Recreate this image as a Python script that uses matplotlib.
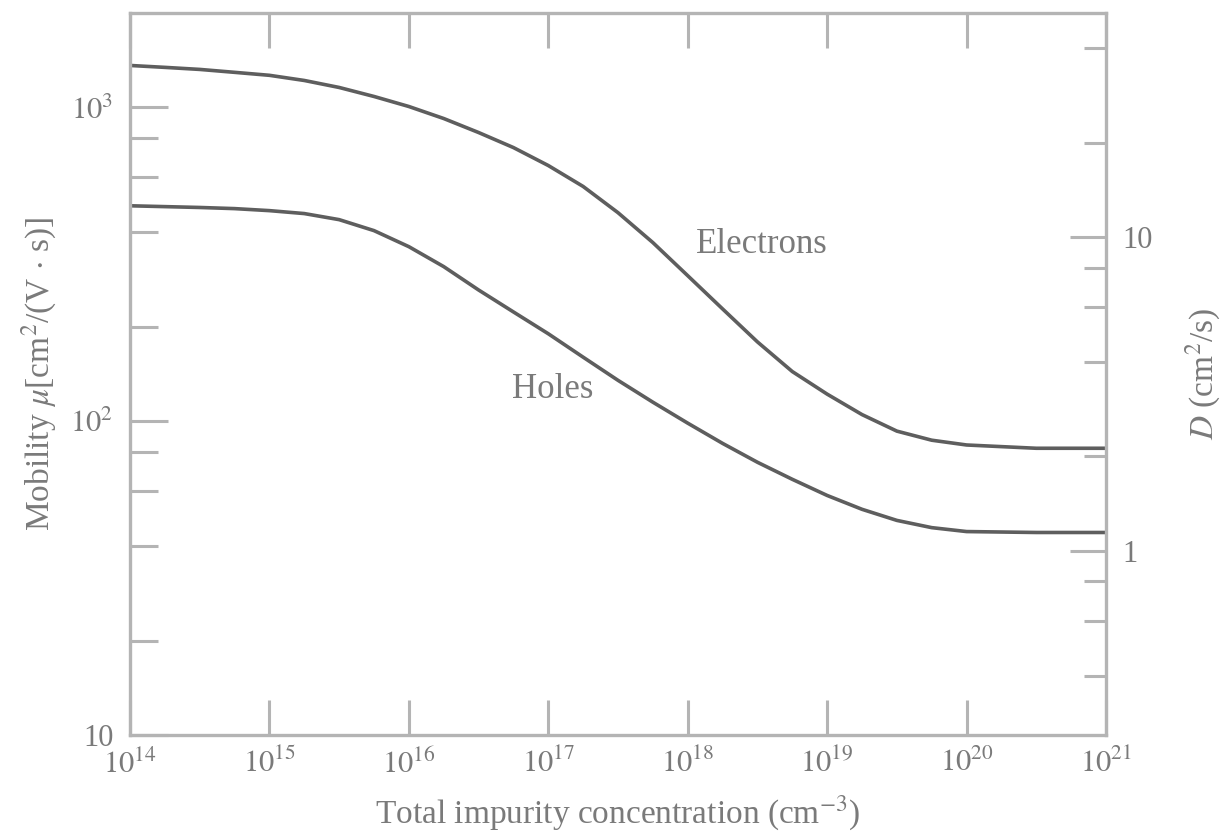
import matplotlib
matplotlib.use("Agg")
import matplotlib.pyplot as plt
from matplotlib.ticker import FixedLocator, NullFormatter, FixedFormatter

plt.rcParams['font.family'] = ['Liberation Serif', 'DejaVu Serif']
plt.rcParams['mathtext.fontset'] = 'stix'

# Data
log_n = [14, 14.25, 14.5, 14.75, 15, 15.25, 15.5, 15.75, 16, 16.25, 16.5, 16.75,
         17, 17.25, 17.5, 17.75, 18, 18.25, 18.5, 18.75, 19, 19.25, 19.5, 19.75,
         20, 20.5, 21]
mu_electrons = [1361, 1342, 1322, 1294, 1266, 1219, 1158, 1084, 1007, 922, 832, 745,
                653, 560, 462, 371, 291, 228, 179, 144, 122, 105, 93, 87,
                84, 82, 82]
mu_holes = [486, 483, 480, 476, 469, 459, 439, 405, 360, 311, 262, 223,
            190, 160, 135, 115, 98.6, 85, 74, 65.3, 58, 52.4, 48.3, 45.8,
            44.5, 44.2, 44.2]
x_tick_exps = [14, 15, 16, 17, 18, 19, 20, 21]
kT_q = 0.0259

N = [10.0 ** v for v in log_n]

TXT = '#7a7a7a'
LINE = '#5e5e5e'
SPINE = '#b4b4b4'

fig = plt.figure(figsize=(12.26, 8.4), dpi=100)
ax = fig.add_axes([130/1226, 1 - 735/840, 976/1226, 722/840])
ax.set_xscale('log')
ax.set_yscale('log')
ax.plot(N, mu_electrons, color=LINE, lw=2.6, solid_capstyle='butt')
ax.plot(N, mu_holes, color=LINE, lw=2.6, solid_capstyle='butt')
ax.set_xlim(1e14, 1e21)
ax.set_ylim(10, 2000)

for s in ax.spines.values():
    s.set_color(SPINE)
    s.set_linewidth(2.4)

ax.xaxis.set_major_locator(FixedLocator([10.0 ** e for e in x_tick_exps]))
ax.xaxis.set_major_formatter(FixedFormatter(['$10^{%d}$' % e for e in x_tick_exps]))
ax.xaxis.set_minor_locator(FixedLocator([]))
ax.tick_params(axis='x', which='major', direction='in', length=25, width=2.2,
               color=SPINE, top=True, labelsize=22, labelcolor=TXT, pad=10)

ax.yaxis.set_major_locator(FixedLocator([10, 100, 1000]))
ax.yaxis.set_major_formatter(FixedFormatter(['10', '$10^2$', '$10^3$']))
ax.yaxis.set_minor_locator(FixedLocator([20, 40, 60, 80, 200, 400, 600, 800]))
ax.yaxis.set_minor_formatter(NullFormatter())
ax.tick_params(axis='y', which='major', direction='in', length=27, width=2.2,
               color=SPINE, labelsize=22, labelcolor=TXT, pad=12)
ax.tick_params(axis='y', which='minor', direction='in', length=20, width=2.2,
               color=SPINE)

ax.set_xlabel('Total impurity concentration (cm$^{-3}$)', fontsize=24, color=TXT, labelpad=10)
ax.set_ylabel(r'Mobility $\mu$[cm$^2$/(V $\cdot$ s)]', fontsize=24, color=TXT, labelpad=8)

ax2 = ax.twinx()
ax2.set_yscale('log')
ax2.set_ylim(10 * kT_q, 2000 * kT_q)
for s in ax2.spines.values():
    s.set_visible(False)
ax2.yaxis.set_major_locator(FixedLocator([1, 10]))
ax2.yaxis.set_major_formatter(FixedFormatter(['1', '10']))
ax2.yaxis.set_minor_locator(FixedLocator([0.4, 0.6, 0.8, 2, 4, 6, 8, 20, 40]))
ax2.yaxis.set_minor_formatter(NullFormatter())
ax2.tick_params(axis='y', which='major', direction='in', length=26, width=2.2,
                color=SPINE, labelsize=22, labelcolor=TXT, pad=12)
ax2.tick_params(axis='y', which='minor', direction='in', length=16, width=2.2,
                color=SPINE)
ax2.set_ylabel(r'$D$ (cm$^2$/s)', fontsize=24, color=TXT, labelpad=22)

ax.text(10 ** 18.53, 367, 'Electrons', fontsize=25, color=TXT, ha='center', va='center')
ax.text(10 ** 17.03, 126, 'Holes', fontsize=25, color=TXT, ha='center', va='center')

fig.savefig('out.png', dpi=100, facecolor='white')
